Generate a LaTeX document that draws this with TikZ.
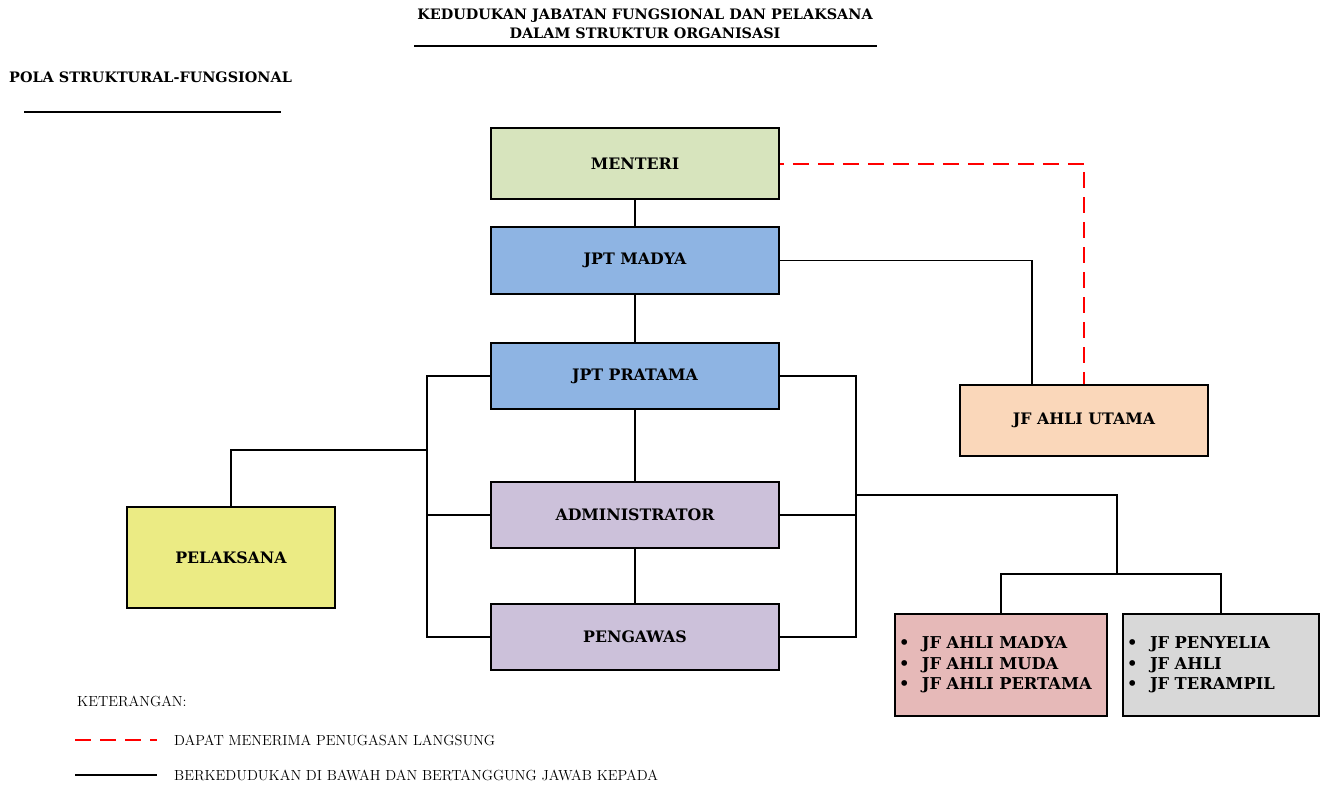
\documentclass[tikz,border=0pt]{standalone}
\usepackage{fontspec}
\newfontfamily\dvs{DejaVu Serif}
\definecolor{cMenteri}{HTML}{D7E4BD}
\definecolor{cJpt}{HTML}{8EB4E3}
\definecolor{cAdm}{HTML}{CCC1DA}
\definecolor{cPel}{HTML}{EBEB84}
\definecolor{cUtama}{HTML}{FAD7BA}
\definecolor{cAhli}{HTML}{E6B9B8}
\definecolor{cGray}{HTML}{D8D8D8}
\tikzset{
  box/.style={draw=black, line width=1.8pt, inner sep=0pt, font=\dvs\bfseries\fontsize{15.8}{19}\selectfont},
  listbox/.style={box, align=left, inner xsep=4pt, font=\dvs\bfseries\fontsize{16.3}{20.5}\selectfont},
  conn/.style={draw=black, line width=1.8pt},
  assign/.style={draw=red, line width=2pt, dash pattern=on 16pt off 9pt},
  titletext/.style={font=\dvs\bfseries\fontsize{14.4}{19}\selectfont, align=center, inner sep=0pt},
  legendtext/.style={font=\fontsize{14.6}{16}\selectfont, anchor=west, inner sep=0pt},
}
\begin{document}
\begin{tikzpicture}[x=1pt,y=-1pt]
\useasboundingbox (0,0) rectangle (1329,785);
% titles
\node[titletext] (title) at (645,24) {KEDUDUKAN JABATAN FUNGSIONAL DAN PELAKSANA\\DALAM STRUKTUR ORGANISASI};
\coordinate (t1) at (414,46);
\coordinate (t2) at (877,46);
\draw[line width=1.5pt] (t1) -- (t2);
\node[titletext, anchor=west] (pola) at (9,77) {POLA STRUKTURAL-FUNGSIONAL};
\coordinate (p1) at (24,112);
\coordinate (p2) at (281,112);
\draw[line width=1.5pt] (p1) -- (p2);
% boxes
\node[box, fill=cMenteri, minimum width=288pt, minimum height=71pt] (menteri) at (635,163.5) {MENTERI};
\node[box, fill=cJpt, minimum width=288pt, minimum height=67pt] (madya) at (635,260.5) {JPT MADYA};
\node[box, fill=cJpt, minimum width=288pt, minimum height=66pt] (pratama) at (635,376) {JPT PRATAMA};
\node[box, fill=cAdm, minimum width=288pt, minimum height=66pt] (admin) at (635,515) {ADMINISTRATOR};
\node[box, fill=cAdm, minimum width=288pt, minimum height=66pt] (pengawas) at (635,637) {PENGAWAS};
\node[box, fill=cPel, minimum width=208pt, minimum height=101pt] (pelaksana) at (231,557.5) {PELAKSANA};
\node[box, fill=cUtama, minimum width=248pt, minimum height=71pt] (utama) at (1084,420.5) {JF AHLI UTAMA};
\node[listbox, fill=cAhli, minimum width=212pt, minimum height=102pt, text width=204pt] (ahli) at (1001,665)
  {\makebox[23pt][l]{\textbullet}JF AHLI MADYA\\\makebox[23pt][l]{\textbullet}JF AHLI MUDA\\\makebox[23pt][l]{\textbullet}JF AHLI PERTAMA};
\node[listbox, fill=cGray, minimum width=196pt, minimum height=102pt, text width=188pt] (terampil) at (1221,665)
  {\makebox[23pt][l]{\textbullet}JF PENYELIA\\\makebox[23pt][l]{\textbullet}JF AHLI\\\makebox[23pt][l]{\textbullet}JF TERAMPIL};
% vertical chain
\draw[conn] (menteri.south) -- (madya.north);
\draw[conn] (madya.south) -- (pratama.north);
\draw[conn] (pratama.south) -- (admin.north);
\draw[conn] (admin.south) -- (pengawas.north);
% JPT Madya to JF Ahli Utama
\draw[conn] (madya.east) -| ([xshift=-52pt]utama.north);
% red dashed
\draw[assign, dash phase=12pt] (menteri.east) -| (utama.north);
% left bracket
\coordinate (lb) at (427,450);
\draw[conn] (pratama.west) -| (pengawas.west -| lb) -- (pengawas.west);
\draw[conn] (admin.west) -- (admin.west -| lb);
\draw[conn] (pelaksana.north) |- (lb);
% right bracket
\coordinate (rb) at (856,495);
\draw[conn] (pratama.east) -| (pengawas.east -| rb) -- (pengawas.east);
\draw[conn] (admin.east) -- (admin.east -| rb);
\coordinate (jn) at (1117,574);
\draw[conn] (rb) -| (jn);
\draw[conn] (ahli.north) |- (jn) -| (terampil.north);
% legend
\node[legendtext] (ket) at (77,701) {KETERANGAN:};
\coordinate (l1a) at (75,740);
\coordinate (l1b) at (157,740);
\coordinate (l2a) at (75,775);
\coordinate (l2b) at (157,775);
\draw[assign] (l1a) -- (l1b);
\draw[conn, line width=2pt] (l2a) -- (l2b);
\node[legendtext] (leg1) at (174,740) {DAPAT MENERIMA PENUGASAN LANGSUNG};
\node[legendtext] (leg2) at (174,775) {BERKEDUDUKAN DI BAWAH DAN BERTANGGUNG JAWAB KEPADA};
\end{tikzpicture}
\end{document}
